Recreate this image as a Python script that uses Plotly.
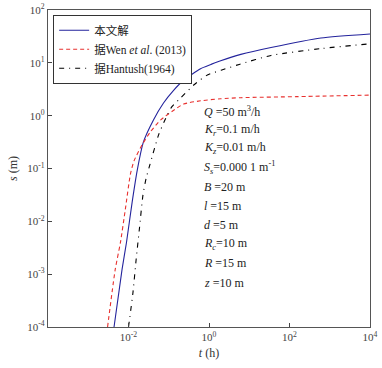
import plotly.graph_objects as go

# ---- data ----
t_ours = [0.00437, 0.00692, 0.00891, 0.0123, 0.0166, 0.0234, 0.0417, 0.0741, 0.132,
          0.234, 0.617, 1.12, 1.95, 6.17, 34.7, 603, 10000]
s_ours = [0.0001, 0.00123, 0.00398, 0.0229, 0.0955, 0.316, 0.832, 1.74, 3.02,
          4.68, 7.76, 9.33, 10.96, 14.45, 19.5, 29.5, 35.1]

t_wen = [0.00302, 0.00468, 0.00631, 0.00832, 0.0112, 0.0138, 0.0219, 0.0347, 0.0631,
         0.120, 0.234, 0.617, 1.95, 6.17, 145, 10000]
s_wen = [0.0001, 0.00123, 0.00398, 0.0166, 0.0794, 0.141, 0.282, 0.490, 0.832,
         1.20, 1.66, 1.91, 2.09, 2.19, 2.29, 2.45]

t_han = [0.0100, 0.0129, 0.0155, 0.0186, 0.0229, 0.0275, 0.0339, 0.0562, 0.0912, 0.120,
         0.195, 0.417, 0.912, 2.00, 5.62, 34.7, 603, 10000]
s_han = [0.0001, 0.000447, 0.00191, 0.00708, 0.0316, 0.0661, 0.117, 0.437, 1.02, 1.48,
         2.14, 3.80, 5.89, 7.24, 9.33, 13.8, 18.6, 22.9]

names = ["本文解", "据Wen <i>et al</i>. (2013)", "据Hantush(1964)"]

x_tickvals = [1e-2, 1, 1e2, 1e4]
x_ticktext = ["10<sup>-2</sup>", "10<sup>0</sup>", "10<sup>2</sup>", "10<sup>4</sup>"]
y_tickvals = [1e-4, 1e-3, 1e-2, 1e-1, 1, 1e1, 1e2]
y_ticktext = ["10<sup>-4</sup>", "10<sup>-3</sup>", "10<sup>-2</sup>", "10<sup>-1</sup>",
              "10<sup>0</sup>", "10<sup>1</sup>", "10<sup>2</sup>"]

param_lines = [
    "<i>Q</i> =50 m<sup>3</sup>/h",
    "<i>K<sub>r</sub></i>=0.1 m/h",
    "<i>K<sub>z</sub></i>=0.01 m/h",
    "<i>S<sub>s</sub></i>=0.000 1 m<sup>-1</sup>",
    "<i>B</i> =20 m",
    "<i>l</i> =15 m",
    "<i>d</i> =5 m",
    "<i>R<sub>c</sub></i>=10 m",
    "<i>R</i> =15 m",
    "<i>z</i> =10 m",
]

FONT = "'Liberation Serif', 'Times New Roman', 'Noto Sans CJK SC', serif"

fig = go.Figure()
fig.add_trace(go.Scatter(x=t_ours, y=s_ours, mode="lines", name=names[0],
                         line=dict(color="#23239c", width=1.1, shape="spline", smoothing=0.6)))
fig.add_trace(go.Scatter(x=t_wen, y=s_wen, mode="lines", name=names[1],
                         line=dict(color="#e8312f", width=1.1, dash="4px,3px",
                                   shape="spline", smoothing=0.6)))
fig.add_trace(go.Scatter(x=t_han, y=s_han, mode="lines", name=names[2],
                         line=dict(color="#000000", width=1.1, dash="5px,5px,1px,5px",
                                   shape="spline", smoothing=0.6)))

# plot area: x 48..370, y 9.5..327
top_px, bot_px = 9.5, 327.0
ys_px = [111, 130, 148, 167, 187, 206, 225, 244, 263, 283]
for txt, yp in zip(param_lines, ys_px):
    fig.add_annotation(text=txt, xref="paper", yref="paper",
                       x=(202 - 48) / 322.0, y=(bot_px - yp) / (bot_px - top_px),
                       xanchor="left", yanchor="middle", showarrow=False,
                       font=dict(family=FONT, size=12, color="#222"))

fig.update_layout(
    width=382, height=368,
    margin=dict(l=48, r=12, t=9.5, b=41, autoexpand=False),
    paper_bgcolor="white", plot_bgcolor="white",
    font=dict(family=FONT, size=11, color="#333"),
    showlegend=True,
    legend=dict(x=0.016, y=0.985, xanchor="left", yanchor="top",
                bgcolor="white", bordercolor="#333", borderwidth=1,
                font=dict(family=FONT, size=11.5, color="#222"),
                tracegroupgap=0, itemwidth=30),
    xaxis=dict(type="log", range=[-4, 4], tickvals=x_tickvals, ticktext=x_ticktext,
               ticks="inside", ticklen=4, tickcolor="#444", showgrid=False, zeroline=False,
               showline=True, linecolor="#555", linewidth=1.4, mirror=True, automargin=False,
               title=dict(text="<i>t</i> (h)", font=dict(family=FONT, size=12, color="#333"),
                          standoff=6),
               tickfont=dict(family=FONT, size=11, color="#444")),
    yaxis=dict(type="log", range=[-4, 2], tickvals=y_tickvals, ticktext=y_ticktext,
               ticks="inside", ticklen=4, tickcolor="#444", showgrid=False, zeroline=False,
               showline=True, linecolor="#555", linewidth=1.4, mirror=True, automargin=False,
               title=dict(text="<i>s</i> (m)", font=dict(family=FONT, size=12, color="#333"),
                          standoff=6),
               tickfont=dict(family=FONT, size=11, color="#444")),
)

fig.write_html("out.html", config={"displayModeBar": False},
               post_script="document.body.style.margin='0';document.body.style.overflow='hidden';")
